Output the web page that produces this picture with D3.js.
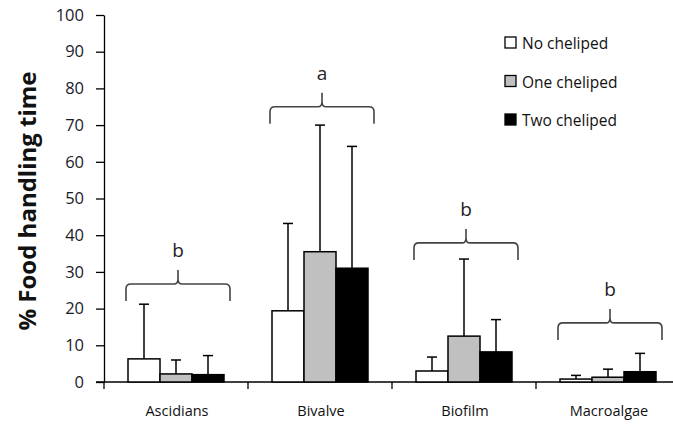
<!DOCTYPE html>
<html>
<head>
<meta charset="utf-8">
<script src="https://cdn.jsdelivr.net/npm/d3@7"></script>
<style>
  body { margin: 0; background: #fff; }
  text { font-family: "Open Sans", "Noto Sans", sans-serif; }
</style>
</head>
<body>
<div id="chart"></div>
<script>
// data
var categories = ["Ascidians", "Bivalve", "Biofilm", "Macroalgae"];
var seriesNames = ["No cheliped", "One cheliped", "Two cheliped"];
var seriesColors = ["#ffffff", "#c0c0c0", "#000000"];
var noCheliped = [6.3, 19.4, 3.0, 0.8];
var oneCheliped = [2.2, 35.5, 12.5, 1.3];
var twoCheliped = [2.0, 31.0, 8.2, 2.8];
var noChelipedErr = [21.2, 43.2, 6.8, 1.8];
var oneChelipedErr = [6.0, 70.0, 33.5, 3.5];
var twoChelipedErr = [7.2, 64.2, 17.0, 7.8];
var letters = ["b", "a", "b", "b"];
var bracketLevel = [26.7, 75.0, 37.9, 16.1];
var yTicks = [0, 10, 20, 30, 40, 50, 60, 70, 80, 90, 100];

var means = [noCheliped, oneCheliped, twoCheliped];
var errs = [noChelipedErr, oneChelipedErr, twoChelipedErr];

var width = 673, height = 429;
var svg = d3.select("#chart").append("svg")
  .attr("width", width)
  .attr("height", height);

// scales
var x = d3.scaleBand().domain(categories).range([104, 680]).paddingInner(0).paddingOuter(0);
var y = d3.scaleLinear().domain([0, 100]).range([382, 15]);
var xSub = d3.scaleBand().domain(seriesNames).range([0, 96]);
var groupOffset = (x.bandwidth() - 96) / 2;

// y axis
var yAxis = d3.axisLeft(y).tickValues(yTicks).tickSize(8).tickSizeOuter(0);
var gy = svg.append("g").attr("transform", "translate(104,0)").call(yAxis);
gy.select(".domain").attr("stroke", "#000").attr("stroke-width", 1.3);
gy.selectAll(".tick line").attr("stroke", "#000").attr("stroke-width", 1.3);
gy.selectAll(".tick text").attr("font-size", 16.5).attr("fill", "#1a1a2a").attr("x", -20);

// x axis
svg.append("line")
  .attr("x1", 96).attr("x2", 673)
  .attr("y1", y(0)).attr("y2", y(0))
  .attr("stroke", "#000").attr("stroke-width", 1.3);
svg.selectAll(".xtick").data(categories).enter().append("line")
  .attr("x1", function(d) { return x(d); })
  .attr("x2", function(d) { return x(d); })
  .attr("y1", y(0)).attr("y2", y(0) + 7)
  .attr("stroke", "#000").attr("stroke-width", 1.3);
svg.selectAll(".xlab").data(categories).enter().append("text")
  .attr("x", function(d) { return x(d) + x.bandwidth() / 2 + 1; })
  .attr("y", 416)
  .attr("text-anchor", "middle")
  .attr("font-size", 14.5)
  .attr("fill", "#111")
  .text(function(d) { return d; });

// y label
svg.append("text")
  .attr("transform", "translate(36,201) rotate(-90)")
  .attr("text-anchor", "middle")
  .attr("font-size", 24)
  .attr("font-weight", "bold")
  .attr("fill", "#111")
  .text("% Food handling time");

// bars + error bars
seriesNames.forEach(function(s, si) {
  var g = svg.append("g");
  categories.forEach(function(c, ci) {
    var bx = x(c) + groupOffset + xSub(s);
    var bw = xSub.bandwidth();
    g.append("rect")
      .attr("x", bx).attr("width", bw)
      .attr("y", y(means[si][ci]))
      .attr("height", y(0) - y(means[si][ci]))
      .attr("fill", seriesColors[si])
      .attr("stroke", "#000").attr("stroke-width", 1.5);
    var cx = bx + bw / 2;
    g.append("line")
      .attr("x1", cx).attr("x2", cx)
      .attr("y1", y(means[si][ci])).attr("y2", y(errs[si][ci]))
      .attr("stroke", "#000").attr("stroke-width", 1.5);
    g.append("line")
      .attr("x1", cx - 5).attr("x2", cx + 5)
      .attr("y1", y(errs[si][ci])).attr("y2", y(errs[si][ci]))
      .attr("stroke", "#000").attr("stroke-width", 1.5);
  });
});

// brackets with letters
categories.forEach(function(c, ci) {
  var cx = x(c) + x.bandwidth() / 2 + 2;
  var hw = 52;
  var yb = y(bracketLevel[ci]);
  var r = 5;
  var p = "M" + (cx - hw) + "," + (yb + 17) +
    " L" + (cx - hw) + "," + (yb + r) +
    " Q" + (cx - hw) + "," + yb + " " + (cx - hw + r) + "," + yb +
    " L" + (cx - 4) + "," + yb +
    " Q" + cx + "," + yb + " " + cx + "," + (yb - 5) +
    " L" + cx + "," + (yb - 14) +
    " M" + cx + "," + (yb - 5) +
    " Q" + cx + "," + yb + " " + (cx + 4) + "," + yb +
    " L" + (cx + hw - r) + "," + yb +
    " Q" + (cx + hw) + "," + yb + " " + (cx + hw) + "," + (yb + r) +
    " L" + (cx + hw) + "," + (yb + 17);
  svg.append("path").attr("d", p)
    .attr("fill", "none").attr("stroke", "#444").attr("stroke-width", 1.6);
  svg.append("text")
    .attr("x", cx).attr("y", yb - 27)
    .attr("text-anchor", "middle")
    .attr("font-size", 19)
    .attr("fill", "#222")
    .text(letters[ci]);
});

// legend
var legend = svg.append("g");
seriesNames.forEach(function(s, i) {
  var ly = 43 + i * 38.5;
  legend.append("rect")
    .attr("x", 505).attr("y", ly - 6).attr("width", 11).attr("height", 11)
    .attr("fill", seriesColors[i]).attr("stroke", "#000").attr("stroke-width", 1.3);
  legend.append("text")
    .attr("x", 522).attr("y", ly + 6)
    .attr("font-size", 15.5)
    .attr("fill", "#111")
    .text(s);
});
</script>
</body>
</html>
